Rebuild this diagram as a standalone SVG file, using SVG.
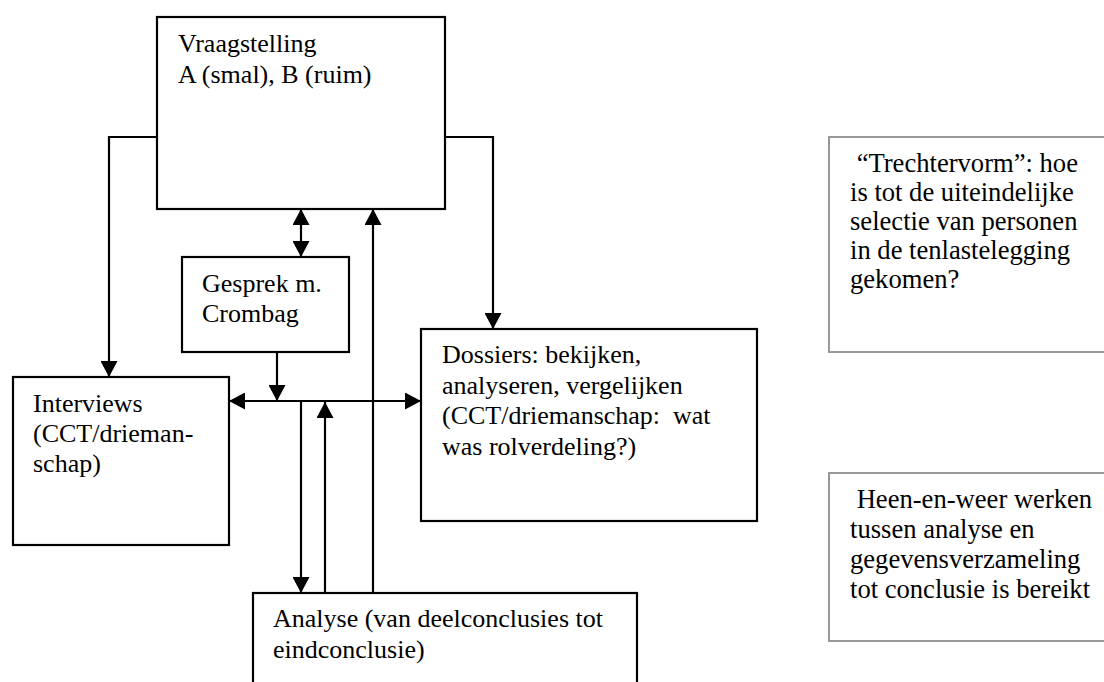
<svg xmlns="http://www.w3.org/2000/svg" width="1104" height="682" viewBox="0 0 1104 682">
<style>
.box{fill:#fff;stroke:#000;stroke-width:2.2}
.note{fill:#fff;stroke:#999;stroke-width:2}
.t{font-family:"Liberation Serif","Times New Roman",serif;font-size:26px;fill:#000}
.n{font-size:26.6px}
.c{fill:none;stroke:#000;stroke-width:2.2}
.a{marker-end:url(#ah)}
.d{marker-start:url(#ah);marker-end:url(#ah)}
</style>
<defs>
<marker id="ah" markerUnits="userSpaceOnUse" markerWidth="17" markerHeight="17" refX="16" refY="8.5" orient="auto-start-reverse" viewBox="0 0 17 17">
<path d="M0,0 L16,8.5 L0,17 z" fill="#000"/>
</marker>
</defs>
<rect width="1104" height="682" fill="#fff"/>
<g id="connectors">
<polyline class="c a" points="157,137 109,137 109,377"/>
<polyline class="c a" points="445,137 493,137 493,329"/>
<line class="c d" x1="301" y1="209" x2="301" y2="257"/>
<line class="c a" x1="277" y1="352" x2="277" y2="401"/>
<line class="c d" x1="229" y1="401" x2="421" y2="401"/>
<line class="c a" x1="301" y1="401" x2="301" y2="593"/>
<line class="c a" x1="325" y1="593" x2="325" y2="402"/>
<line class="c a" x1="373" y1="593" x2="373" y2="209"/>
</g>
<g id="vraagstelling">
<rect class="box" x="157" y="17" width="288" height="192"/>
<text class="t" x="178" y="52">Vraagstelling</text>
<text class="t" x="178" y="83">A (smal), B (ruim)</text>
</g>
<g id="gesprek">
<rect class="box" x="182" y="257" width="167" height="95"/>
<text class="t" x="202" y="292">Gesprek m.</text>
<text class="t" x="202" y="322">Crombag</text>
</g>
<g id="interviews">
<rect class="box" x="13" y="377" width="216" height="168"/>
<text class="t" x="33" y="412">Interviews</text>
<text class="t" x="33" y="442">(CCT/drieman-</text>
<text class="t" x="33" y="472">schap)</text>
</g>
<g id="dossiers">
<rect class="box" x="421" y="329" width="336" height="192"/>
<text class="t" x="442" y="363">Dossiers: bekijken,</text>
<text class="t" x="442" y="394">analyseren, vergelijken</text>
<text class="t" x="442" y="424" xml:space="preserve">(CCT/driemanschap:  wat</text>
<text class="t" x="442" y="455">was rolverdeling?)</text>
</g>
<g id="analyse">
<rect class="box" x="253" y="593" width="384" height="100"/>
<text class="t" x="273" y="627">Analyse (van deelconclusies tot</text>
<text class="t" x="273" y="658">eindconclusie)</text>
</g>
<g id="trechter">
<rect class="note" x="829" y="137" width="290" height="215"/>
<text class="t n" x="850" y="172" xml:space="preserve"> “Trechtervorm”: hoe</text>
<text class="t n" x="850" y="201">is tot de uiteindelijke</text>
<text class="t n" x="850" y="230">selectie van personen</text>
<text class="t n" x="850" y="259">in de tenlastelegging</text>
<text class="t n" x="850" y="288">gekomen?</text>
</g>
<g id="heenenweer">
<rect class="note" x="829" y="473" width="290" height="168"/>
<text class="t n" x="850" y="508" xml:space="preserve"> Heen-en-weer werken</text>
<text class="t n" x="850" y="538">tussen analyse en</text>
<text class="t n" x="850" y="568">gegevensverzameling</text>
<text class="t n" x="850" y="598">tot conclusie is bereikt</text>
</g>
</svg>
